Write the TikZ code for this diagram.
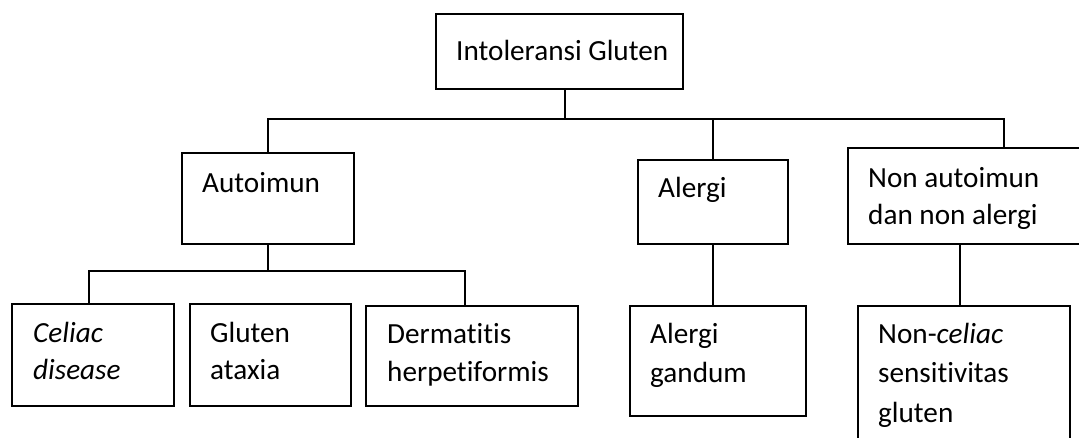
\documentclass[tikz,border=0pt]{standalone}
\usepackage{fontspec}
\setmainfont{Carlito}[Ligatures={NoCommon}]
\begin{document}
\begin{tikzpicture}[x=1pt,y=-1pt,
  box/.style={draw, line width=2pt, anchor=north west, inner sep=0pt},
  lbl/.style={anchor=base west, inner sep=0pt, align=left, font=\fontsize{29.2}{38.5}\selectfont},
  conn/.style={line width=1.7pt}]
\useasboundingbox (0,0) rectangle (1079,437);
\clip (0,0) rectangle (1079,437);
% boxes
\node[box, minimum width=247, minimum height=75] (top) at (435,13) {};
\node[box, minimum width=172, minimum height=91] (auto) at (181,152) {};
\node[box, minimum width=150, minimum height=84] (alergi) at (637,159) {};
\node[box, minimum width=312, minimum height=96] (non) at (847,147) {};
\node[box, minimum width=162, minimum height=102] (celiac) at (11,303) {};
\node[box, minimum width=161, minimum height=102] (gluten) at (189,303) {};
\node[box, minimum width=212, minimum height=100] (derm) at (365,305) {};
\node[box, minimum width=176, minimum height=110] (gandum) at (629,305) {};
\node[box, minimum width=212, minimum height=200] (noncel) at (857,305) {};
% texts
\node[lbl] (ttop) at (456,60) {Intoleransi Gluten};
\node[lbl] (tauto) at (202,192) {Autoimun};
\node[lbl] (talergi) at (658,197) {Alergi};
\node[lbl] (tnon1) at (868,187) {Non autoimun};
\node[lbl] (tnon2) at (868,224) {dan non alergi};
\node[lbl] (tcel1) at (33,342) {\itshape Celiac};
\node[lbl] (tcel2) at (33,379) {\itshape disease};
\node[lbl] (tglu1) at (210,342) {Gluten};
\node[lbl] (tglu2) at (210,379) {ataxia};
\node[lbl] (tder1) at (387,343) {Dermatitis};
\node[lbl] (tder2) at (387,381) {herpetiformis};
\node[lbl] (tgan1) at (650,343) {Alergi};
\node[lbl] (tgan2) at (650,382) {gandum};
\node[lbl] (tnc1) at (878,343) {Non-\textit{celiac}};
\node[lbl] (tnc2) at (878,382) {sensitivitas};
\node[lbl] (tnc3) at (878,422) {gluten};
% connectors
\coordinate (j0) at (565,119);
\coordinate (b1) at (89,271);
\coordinate (b3) at (465,271);
\coordinate (jn) at (960,0);
\draw[conn] (j0 |- top.south) -- (j0);
\draw[conn] (auto.north) |- (non.north |- j0) -- (non.north);
\draw[conn] (alergi.north) -- (alergi.north |- j0);
\draw[conn] (auto.south) -- (auto.south |- b1);
\draw[conn] (b1 |- celiac.north) -- (b1) -- (b3) -- (b3 |- derm.north);
\draw[conn] (alergi.south) -- (alergi.south |- gandum.north);
\draw[conn] (jn |- non.south) -- (jn |- noncel.north);
\end{tikzpicture}
\end{document}
